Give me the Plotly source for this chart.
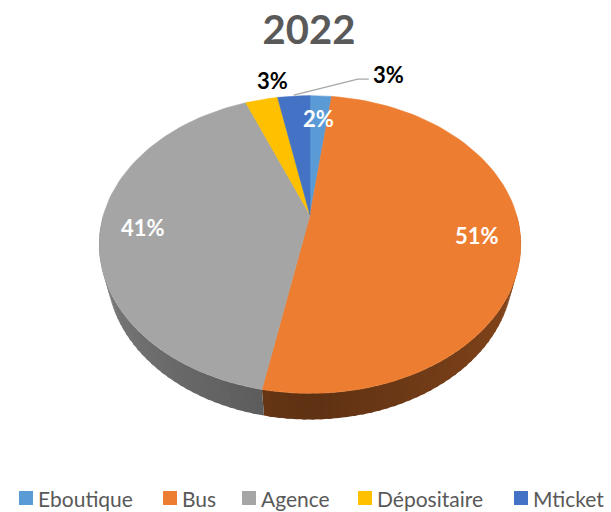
import numpy as np
import plotly.graph_objects as go

# Sales channel shares for 2022
categories = ["Eboutique", "Bus", "Agence", "Dépositaire", "Mticket"]
shares = [2, 51, 41, 3, 3]
colors = ["#5B9BD5", "#ED7D31", "#A5A5A5", "#FFC000", "#4472C4"]
chart_title = "2022"

W, H = 611, 512

# Perspective pie geometry (pixel space)
CX, CY = 310.0, 215.0
SCALE = 752.0
DIST = 3.64
TILT = np.radians(43.8)
THICK = 0.19


def project(theta, r=1.0, y=0.0):
    """Project a point of the disc (angle clockwise from the back) to pixels."""
    X = r * np.sin(theta)
    Z = r * np.cos(theta)
    depth = DIST - y * np.sin(TILT) + Z * np.cos(TILT)
    xs = X / depth
    ys = (y * np.cos(TILT) + Z * np.sin(TILT)) / depth
    return CX + SCALE * xs, CY - SCALE * ys


def hex_to_rgb(h):
    h = h.lstrip("#")
    return tuple(int(h[i:i + 2], 16) for i in (0, 2, 4))


def shaded(hex_color, k):
    r, g, b = hex_to_rgb(hex_color)
    return f"rgb({int(r * k)},{int(g * k)},{int(b * k)})"


total = float(sum(shares))
bounds = np.concatenate([[0.0], np.cumsum(shares)]) / total * 2 * np.pi

fig = go.Figure()

# Side wall: only the front half is visible, drawn in overlapping shaded strips
wall_dark = {"#ED7D31": (0.40, 0.16), "#A5A5A5": (0.52, 0.22)}
step = np.radians(2.0)
for i, col in enumerate(colors):
    a0 = max(bounds[i], np.pi / 2)
    a1 = min(bounds[i + 1], 3 * np.pi / 2)
    if a1 <= a0:
        continue
    base, amp = wall_dark.get(col, (0.5, 0.15))
    n = max(1, int(np.ceil((a1 - a0) / step)))
    edges = np.linspace(a0, a1, n + 1)
    for j, (t0, t1) in enumerate(zip(edges[:-1], edges[1:])):
        t_end = min(t1 + np.radians(0.8), a1) if j < n - 1 else t1
        ts = np.linspace(t0, t_end, 5)
        xt, yt = project(ts)
        xb, yb = project(ts[::-1], y=-THICK)
        k = base + amp * abs(np.sin((t0 + t1) / 2))
        c = shaded(col, k)
        fig.add_trace(go.Scatter(
            x=np.concatenate([xt, xb]), y=np.concatenate([yt, yb]),
            fill="toself", fillcolor=c, mode="lines",
            line=dict(color=c, width=0), hoverinfo="skip", showlegend=False))

# Top face slices
for i, (name, col) in enumerate(zip(categories, colors)):
    ts = np.linspace(bounds[i], bounds[i + 1], 80)
    xa, ya = project(ts)
    x = np.concatenate([[CX], xa, [CX]])
    y = np.concatenate([[CY], ya, [CY]])
    fig.add_trace(go.Scatter(
        x=x, y=y, fill="toself", fillcolor=col, mode="lines",
        line=dict(color=col, width=0.6), name=name, hoverinfo="name",
        showlegend=False))

# Data labels
label_font = dict(family="Lato", size=22)
inside = [True, True, True, False, False]
for i, v in enumerate(shares):
    txt = f"{v / total * 100:.0f}%"
    mid = (bounds[i] + bounds[i + 1]) / 2
    if inside[i]:
        lx, ly = project(mid, r=0.8)
        fig.add_annotation(x=lx, y=ly + 2, text=f"<b>{txt}</b>", showarrow=False,
                           font=dict(color="white", **label_font))
    else:
        rx, ry = project(mid)
        if categories[i] == "Mticket":
            # leader line from the rim to the label
            fig.add_trace(go.Scatter(
                x=[rx, rx + 64, rx + 75], y=[ry - 1, ry - 17, ry - 17],
                mode="lines", line=dict(color="#A6A6A6", width=1.2),
                hoverinfo="skip", showlegend=False))
            fig.add_annotation(x=rx + 95, y=ry - 22, text=f"<b>{txt}</b>",
                               showarrow=False, font=dict(color="black", **label_font))
        else:
            fig.add_annotation(x=rx + 11, y=ry - 19, text=f"<b>{txt}</b>",
                               showarrow=False, font=dict(color="black", **label_font))

# Legend row: colour key squares with category names
legend_x = [19, 163, 242, 358, 514]
legend_y = 498
for name, col, lx in zip(categories, colors, legend_x):
    fig.add_shape(type="rect", x0=lx, x1=lx + 14, y0=legend_y - 7, y1=legend_y + 7,
                  fillcolor=col, line=dict(width=0), layer="above")
    fig.add_annotation(x=lx + 18, y=legend_y, text=name, showarrow=False,
                       xanchor="left", yanchor="middle", borderpad=0,
                       font=dict(family="Lato", size=21, color="#595959"))

fig.update_layout(
    width=W, height=H,
    margin=dict(l=0, r=0, t=0, b=0),
    paper_bgcolor="white", plot_bgcolor="white",
    title=dict(text=f"<b>{chart_title}</b>", x=309 / W, xanchor="center",
               y=1 - 30 / H, yanchor="middle", yref="container",
               font=dict(family="Lato", size=40, color="#595959")),
    xaxis=dict(range=[0, W], visible=False, fixedrange=True),
    yaxis=dict(range=[H, 0], visible=False, fixedrange=True),
    showlegend=False,
)

fig.write_html("out.html")
